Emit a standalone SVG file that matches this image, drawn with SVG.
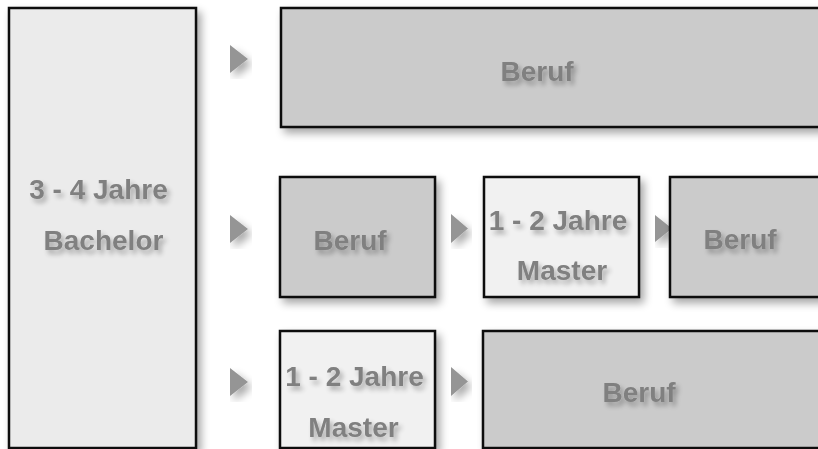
<svg xmlns="http://www.w3.org/2000/svg" width="818" height="449" viewBox="0 0 818 449">
<defs>
<filter id="sh" x="-20%" y="-20%" width="140%" height="140%">
<feGaussianBlur in="SourceAlpha" stdDeviation="4"/>
<feOffset dx="4" dy="5" result="b"/>
<feComponentTransfer><feFuncA type="linear" slope="0.35"/></feComponentTransfer>
<feMerge><feMergeNode/><feMergeNode in="SourceGraphic"/></feMerge>
</filter>
<filter id="tsh" x="-20%" y="-30%" width="140%" height="170%">
<feGaussianBlur in="SourceAlpha" stdDeviation="2.5"/>
<feOffset dx="3" dy="4" result="b"/>
<feComponentTransfer><feFuncA type="linear" slope="0.3"/></feComponentTransfer>
<feMerge><feMergeNode/><feMergeNode in="SourceGraphic"/></feMerge>
</filter>
</defs>
<style>
.box{stroke:#111;stroke-width:2.5}
.light{fill:#ebebeb}
.lighter{fill:#f1f1f1}
.dark{fill:#cbcbcb}
.arr{fill:#959595}
text{font-family:"Liberation Sans",Arial,sans-serif;font-weight:bold;font-size:28px;fill:#808080;text-anchor:middle}
</style>
<rect width="818" height="449" fill="#ffffff"/>
<g id="connectors">
<polygon class="arr" filter="url(#sh)" points="230,45 248,59 230,73"/>
<polygon class="arr" filter="url(#sh)" points="230,215 248,229 230,243"/>
<polygon class="arr" filter="url(#sh)" points="230,368 248,382 230,396"/>
<polygon class="arr" filter="url(#sh)" points="451,214 468,228.5 451,243"/>
<polygon class="arr" filter="url(#sh)" points="655,215 672,228.5 655,242"/>
<polygon class="arr" filter="url(#sh)" points="451,367 468,381.5 451,396"/>
</g>
<g id="bachelor">
<rect class="box light" filter="url(#sh)" x="9" y="8" width="187" height="440"/>
<text filter="url(#tsh)" x="98.5" y="199">3 - 4 Jahre</text>
<text filter="url(#tsh)" x="103.5" y="250">Bachelor</text>
</g>
<g id="beruf-top">
<rect class="box dark" filter="url(#sh)" x="281" y="8" width="560" height="119"/>
<text filter="url(#tsh)" x="537" y="81">Beruf</text>
</g>
<g id="beruf-mid-left">
<rect class="box dark" filter="url(#sh)" x="280" y="177" width="155" height="120"/>
<text filter="url(#tsh)" x="350" y="250">Beruf</text>
</g>
<g id="master-mid">
<rect class="box lighter" filter="url(#sh)" x="484" y="177" width="155" height="120"/>
<text filter="url(#tsh)" x="558" y="230">1 - 2 Jahre</text>
<text filter="url(#tsh)" x="562" y="280">Master</text>
</g>
<g id="beruf-mid-right">
<rect class="box dark" filter="url(#sh)" x="670" y="177" width="170" height="120"/>
<text filter="url(#tsh)" x="740" y="249">Beruf</text>
</g>
<g id="master-bottom">
<rect class="box lighter" filter="url(#sh)" x="280" y="331" width="155" height="117"/>
<text filter="url(#tsh)" x="354.5" y="386">1 - 2 Jahre</text>
<text filter="url(#tsh)" x="353.5" y="437">Master</text>
</g>
<g id="beruf-bottom">
<rect class="box dark" filter="url(#sh)" x="483" y="331" width="360" height="117"/>
<text filter="url(#tsh)" x="639" y="402">Beruf</text>
</g>
</svg>
